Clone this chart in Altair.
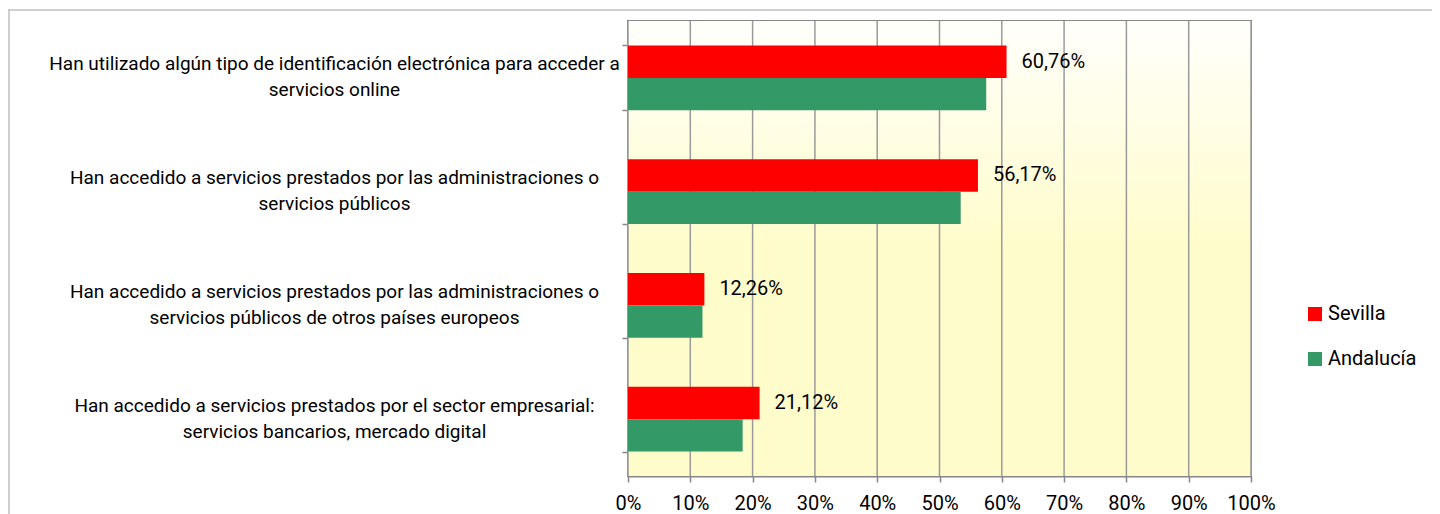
import altair as alt
import pandas as pd

# ---- data ----
categories = [
    "Han utilizado algún tipo de identificación electrónica para acceder a|servicios online",
    "Han accedido a servicios prestados por las administraciones o|servicios públicos",
    "Han accedido a servicios prestados por las administraciones o|servicios públicos de otros países europeos",
    "Han accedido a servicios prestados por el sector empresarial:|servicios bancarios, mercado digital",
]
series = ["Sevilla", "Andalucía"]
sevilla = [60.76, 56.17, 12.26, 21.12]
andalucia = [57.5, 53.4, 11.95, 18.4]
sevilla_labels = ["60,76%", "56,17%", "12,26%", "21,12%"]
x_ticks = [0, 10, 20, 30, 40, 50, 60, 70, 80, 90, 100]
colors = ["#FF0000", "#339966"]

rows = []
for i, c in enumerate(categories):
    rows.append({"cat": c, "serie": "Sevilla", "value": sevilla[i], "label": sevilla_labels[i]})
    rows.append({"cat": c, "serie": "Andalucía", "value": andalucia[i], "label": ""})
df = pd.DataFrame(rows)
grid_df = pd.DataFrame({"t": x_ticks})

W, H = 623, 455
FONT = "Roboto"
GRAY = "#868686"

x_scale = alt.Scale(domain=[0, 100], nice=False)
y_enc = alt.Y(
    "cat:N",
    sort=categories,
    scale=alt.Scale(paddingInner=0.43, paddingOuter=0.215),
    axis=alt.Axis(
        title=None,
        tickBand="extent",
        labelAlign="center",
        labelBaseline="middle",
        labelPadding=288,
        labelOffset=-14,
        labelLimit=900,
        labelExpr="split(datum.label, '|')",
        labelLineHeight=26,
        labelFont=FONT,
        labelFontSize=19,
        labelColor="#000000",
        tickSize=6,
        tickColor=GRAY,
        tickWidth=1.5,
        domainColor=GRAY,
        domainWidth=2,
    ),
)
yoff = alt.YOffset("serie:N", sort=series, scale=alt.Scale(paddingInner=0, paddingOuter=0))

background = alt.Chart(alt.Data(values=[{"a": 1}])).mark_rect(
    color=alt.LinearGradient(
        gradient="linear",
        stops=[
            alt.GradientStop(color="#FFFFFB", offset=0),
            alt.GradientStop(color="#FFFCCB", offset=0.5),
            alt.GradientStop(color="#FFFCCB", offset=1),
        ],
        x1=0, x2=0, y1=0, y2=1,
    )
).encode(x=alt.value(0), x2=alt.value(W), y=alt.value(0), y2=alt.value(H))

grid = alt.Chart(grid_df).mark_rule(color="#9A9A9A", strokeWidth=1.5).encode(
    x=alt.X("t:Q", scale=x_scale)
)

bars = alt.Chart(df).mark_bar().encode(
    y=y_enc,
    yOffset=yoff,
    x=alt.X(
        "value:Q",
        scale=x_scale,
        axis=alt.Axis(
            title=None,
            values=x_ticks,
            labelExpr="datum.value + '%'",
            grid=False,
            tickSize=6,
            tickColor=GRAY,
            tickWidth=1.5,
            domainColor=GRAY,
            domainWidth=2,
            labelFont=FONT,
            labelFontSize=20,
            labelColor="#000000",
            labelPadding=11,
            labelFlush=False,
        ),
    ),
    color=alt.Color(
        "serie:N",
        sort=series,
        scale=alt.Scale(domain=series, range=colors),
        legend=alt.Legend(
            title=None,
            orient="none",
            legendX=677,
            legendY=283,
            symbolType="square",
            symbolSize=196,
            symbolStrokeWidth=0,
            labelFont=FONT,
            labelFontSize=20,
            labelColor="#000000",
            labelOffset=3,
            rowPadding=25,
            padding=0,
        ),
    ),
)

texts = alt.Chart(df).transform_filter(alt.datum.serie == "Sevilla").mark_text(
    align="left", baseline="middle", dx=15, font=FONT, fontSize=20, color="#000000"
).encode(
    y=alt.Y("cat:N", sort=categories),
    yOffset=yoff,
    x=alt.X("value:Q", scale=x_scale),
    text="label:N",
)

# outer chart frame (decoration)
frame_top = alt.Chart(alt.Data(values=[{"a": 1}])).mark_rule(color="#BFBFBF", strokeWidth=1.5).encode(
    x=alt.value(-620), x2=alt.value(812), y=alt.value(-11)
)
frame_left = alt.Chart(alt.Data(values=[{"a": 1}])).mark_rule(color="#BFBFBF", strokeWidth=1.5).encode(
    x=alt.value(-619), y=alt.value(-11), y2=alt.value(H + 60)
)

chart = alt.layer(background, grid, bars, texts, frame_top, frame_left).properties(
    width=W,
    height=H,
    autosize=alt.AutoSizeParams(type="none"),
    padding={"left": 620, "top": 13, "right": 181, "bottom": 40},
).configure_view(stroke=GRAY, strokeWidth=2)

chart.save("out.html", embed_options={"renderer": "svg", "actions": False})
